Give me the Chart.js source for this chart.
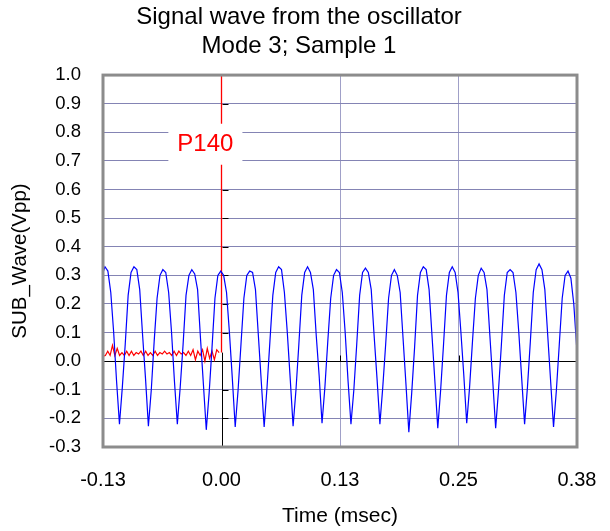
<!DOCTYPE html>
<html>
<head>
<meta charset="utf-8">
<title>Signal wave from the oscillator</title>
<script src="https://cdn.jsdelivr.net/npm/chart.js@4.4.1/dist/chart.umd.min.js"></script>
<style>
    html, body { margin: 0; padding: 0; background: #fff; }
    #wrap { width: 610px; height: 531px; }
</style>
</head>
<body>
<div id="wrap"><canvas id="waveChart"></canvas></div>
<script>
// ===================================
// DATA
// ===================================
const titleLines = ['Signal wave from the oscillator', 'Mode 3; Sample 1'];
const xTitle = 'Time (msec)';
const yTitle = 'SUB_Wave(Vpp)';

const xTicks = [-0.125, 0, 0.125, 0.25, 0.375];
const xTickLabels = ['-0.13', '0.00', '0.13', '0.25', '0.38'];
const yTicks = [-0.3, -0.2, -0.1, 0.0, 0.1, 0.2, 0.3, 0.4, 0.5, 0.6, 0.7, 0.8, 0.9, 1.0];

// SUB wave: sampled every subStep msec, starting at subStart
const subStart = -0.12595;
const subStep = 0.0030525;
const subValues = [
    0.30,
    0.33, 0.315, 0.24, 0.10, -0.07, -0.22, -0.09, 0.06, 0.23, 0.31,
    0.33, 0.32, 0.25, 0.09, -0.06, -0.227, -0.10, 0.07, 0.22, 0.30,
    0.32, 0.31, 0.24, 0.10, -0.07, -0.22, -0.09, 0.06, 0.23, 0.30,
    0.32, 0.305, 0.25, 0.08, -0.08, -0.24, -0.11, 0.05, 0.22, 0.30,
    0.315, 0.30, 0.24, 0.10, -0.06, -0.23, -0.10, 0.06, 0.22, 0.30,
    0.315, 0.31, 0.25, 0.09, -0.07, -0.23, -0.09, 0.07, 0.23, 0.31,
    0.33, 0.32, 0.24, 0.10, -0.06, -0.227, -0.10, 0.06, 0.23, 0.31,
    0.33, 0.31, 0.25, 0.09, -0.05, -0.217, -0.09, 0.07, 0.22, 0.30,
    0.32, 0.31, 0.24, 0.10, -0.07, -0.22, -0.10, 0.06, 0.23, 0.31,
    0.325, 0.31, 0.25, 0.09, -0.06, -0.22, -0.09, 0.06, 0.22, 0.30,
    0.32, 0.30, 0.24, 0.08, -0.08, -0.248, -0.11, 0.05, 0.23, 0.31,
    0.33, 0.32, 0.25, 0.09, -0.07, -0.234, -0.10, 0.06, 0.23, 0.31,
    0.33, 0.31, 0.24, 0.10, -0.05, -0.217, -0.09, 0.07, 0.22, 0.30,
    0.325, 0.31, 0.25, 0.09, -0.07, -0.234, -0.10, 0.06, 0.23, 0.31,
    0.32, 0.31, 0.24, 0.10, -0.06, -0.22, -0.09, 0.07, 0.24, 0.32,
    0.34, 0.32, 0.25, 0.09, -0.07, -0.23, -0.10, 0.06, 0.22, 0.30,
    0.315, 0.29, 0.20, 0.05, -0.07
];

// P140 pre-trigger trace
const p140Start = -0.125;
const p140Step = 0.0025;
const p140Values = [
    0.017, 0.02, 0.035, 0.02, 0.055, 0.02, 0.045, 0.02, 0.03, 0.02,
    0.035, 0.02, 0.035, 0.02, 0.03, 0.025, 0.035, 0.02, 0.035, 0.02,
    0.03, 0.02, 0.035, 0.02, 0.03, 0.025, 0.035, 0.025, 0.03, 0.02,
    0.035, 0.02, 0.035, 0.025, 0.03, 0.02, 0.035, 0.02, 0.04, 0.005,
    0.035, 0.02, 0.04, 0.0, 0.045, 0.01, 0.035, 0.005, 0.04, 0.03
];
const triggerTime = 0;
const triggerTop = 1.0;

const markerText = 'P140';
const markerX = -0.017;
const markerY = 0.76;

// ===================================
// HELPERS
// ===================================
const FONT = "'Liberation Sans', Arial, sans-serif";

function toPoints(start, step, values) {
    return values.map((v, i) => ({ x: start + i * step, y: v }));
}

const subPoints = toPoints(subStart, subStep, subValues);
const p140Points = toPoints(p140Start, p140Step, p140Values);
const triggerLow = p140Values[p140Values.length - 1];
const triggerPoints = [
    { x: triggerTime, y: triggerLow },
    { x: triggerTime, y: triggerTop }
];

// axes at zero, frame and the P140 tag
const scopePlugin = {
    id: 'scope',
    beforeDatasetsDraw(chart) {
        const { ctx, chartArea: a, scales: { x, y } } = chart;
        const x0 = Math.round(x.getPixelForValue(0)) + 0.5;
        const y0 = Math.round(y.getPixelForValue(0)) + 0.5;
        ctx.save();
        ctx.strokeStyle = '#000';
        ctx.lineWidth = 1;
        ctx.beginPath();
        ctx.moveTo(a.left, y0); ctx.lineTo(a.right, y0);
        // black part of the time axis, under the trigger mark
        ctx.moveTo(x0, a.bottom); ctx.lineTo(x0, y.getPixelForValue(triggerLow));
        yTicks.forEach(v => {
            const py = Math.round(y.getPixelForValue(v)) + 0.5;
            ctx.moveTo(x0, py); ctx.lineTo(x0 + 6, py);
        });
        xTicks.forEach(v => {
            const px = Math.round(x.getPixelForValue(v)) + 0.5;
            ctx.moveTo(px, y0); ctx.lineTo(px, y0 - 6);
        });
        ctx.stroke();
        ctx.restore();
    },
    afterDatasetsDraw(chart) {
        const { ctx, scales: { x, y } } = chart;
        const cx = x.getPixelForValue(markerX);
        const cy = y.getPixelForValue(markerY);
        ctx.save();
        ctx.font = '24px ' + FONT;
        const w = ctx.measureText(markerText).width;
        ctx.fillStyle = '#fff';
        ctx.fillRect(cx - w / 2 - 9, cy - 20, w + 18, 41);
        ctx.fillStyle = '#ff0000';
        ctx.textAlign = 'center';
        ctx.textBaseline = 'middle';
        ctx.fillText(markerText, cx, cy + 1);
        ctx.restore();
    },
    afterDraw(chart) {
        const { ctx, chartArea: a } = chart;
        ctx.save();
        ctx.strokeStyle = '#8c8c8c';
        ctx.lineWidth = 3;
        ctx.strokeRect(a.left, a.top, a.right - a.left, a.bottom - a.top);
        ctx.restore();
    }
};

// ===================================
// CHART
// ===================================
new Chart(document.getElementById('waveChart'), {
    type: 'scatter',
    data: {
        datasets: [
            {
                label: 'SUB_Wave',
                data: subPoints,
                showLine: true,
                borderColor: '#0000ff',
                borderWidth: 1.2,
                pointRadius: 0,
                tension: 0
            },
            {
                label: 'P140',
                data: p140Points,
                showLine: true,
                borderColor: '#ff0000',
                borderWidth: 1.2,
                pointRadius: 0,
                tension: 0
            },
            {
                label: 'Trigger',
                data: triggerPoints,
                showLine: true,
                borderColor: '#ff0000',
                borderWidth: 1.3,
                pointRadius: 0
            }
        ]
    },
    options: {
        responsive: true,
        maintainAspectRatio: false,
        animation: false,
        layout: { padding: { left: 0, right: 12, top: 0, bottom: 0 } },
        plugins: {
            legend: { display: false },
            tooltip: { enabled: false },
            title: {
                display: true,
                text: titleLines,
                color: '#000',
                font: { family: FONT, size: 24, weight: 'normal', lineHeight: 1.21 },
                padding: { top: 3, bottom: 14 }
            }
        },
        scales: {
            x: {
                type: 'linear',
                min: xTicks[0],
                max: xTicks[xTicks.length - 1],
                afterBuildTicks: s => { s.ticks = xTicks.map(v => ({ value: v })); },
                afterFit: s => { s.height = 84; s.paddingLeft = 0; s.paddingRight = 33; },
                ticks: {
                    color: '#000',
                    font: { family: FONT, size: 20 },
                    padding: 21,
                    maxRotation: 0,
                    callback: (v, i) => xTickLabels[i]
                },
                grid: {
                    color: c => (c.tick && c.tick.value === 0 ? 'rgba(0,0,0,0)' : '#a0a0c8'),
                    lineWidth: 1,
                    drawTicks: false
                },
                border: { display: false },
                title: {
                    display: true,
                    text: xTitle,
                    color: '#000',
                    font: { family: FONT, size: 21 },
                    padding: { top: 0, bottom: 2 }
                }
            },
            y: {
                type: 'linear',
                min: yTicks[0],
                max: yTicks[yTicks.length - 1],
                afterBuildTicks: s => { s.ticks = yTicks.map(v => ({ value: v })); },
                afterFit: s => { s.width = 103; s.paddingTop = 0; s.paddingBottom = 0; },
                ticks: {
                    color: '#000',
                    font: { family: FONT, size: 18.5 },
                    padding: 22,
                    callback: v => v.toFixed(1)
                },
                grid: { color: '#8484b4', lineWidth: 1, drawTicks: false },
                border: { display: false },
                title: {
                    display: true,
                    text: yTitle,
                    color: '#000',
                    font: { family: FONT, size: 20.5 },
                    padding: { top: 8, bottom: 0 }
                }
            }
        }
    },
    plugins: [scopePlugin]
});
</script>
</body>
</html>
